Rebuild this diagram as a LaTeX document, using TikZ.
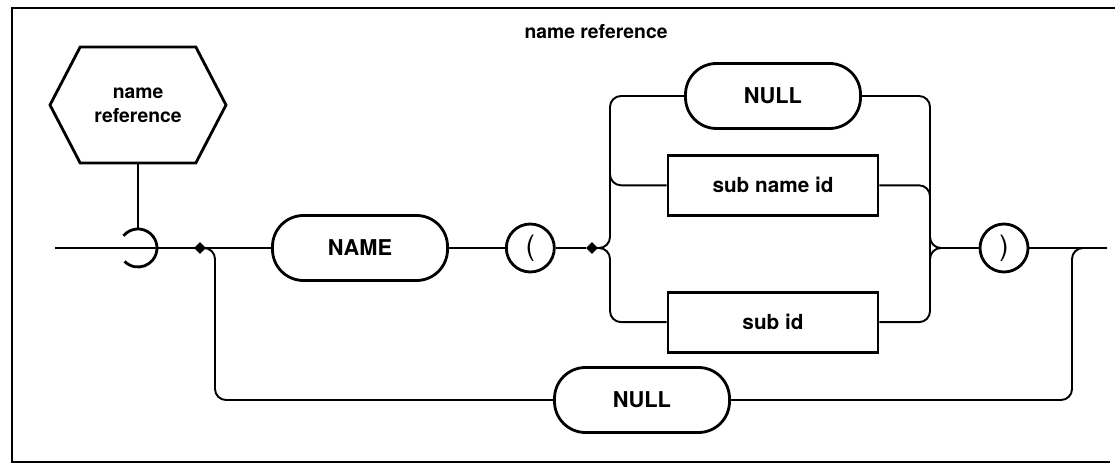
\documentclass[tikz,border=0pt]{standalone}
\usepackage{fontspec}
\setmainfont{TeX Gyre Heros}
\usepackage{tikz}
\usetikzlibrary{positioning,shapes.geometric,shapes.symbols}

\begin{document}
\begin{tikzpicture}[
  node distance=0.48cm and 1.12cm,
  box/.style={rectangle,draw=black,line width=1.6pt,minimum width=3.5cm,minimum height=1.3cm,
              inner sep=0pt,font=\fontsize{12.4}{14}\selectfont\bfseries},
  term/.style={box,rounded corners=0.62cm},
  idbox/.style={box,minimum width=4.2cm,minimum height=1.2cm,font=\fontsize{11.8}{14}\selectfont\bfseries},
  hexa/.style={signal,signal to=west and east,signal pointer angle=125,draw=black,line width=1.6pt,
               minimum width=3.52cm,minimum height=2.32cm,align=center,
               font=\fontsize{11}{13.5}\selectfont\bfseries},
  paren/.style={circle,draw=black,line width=1.6pt,minimum size=0.96cm,inner sep=0pt,
                font=\fontsize{16}{16}\selectfont},
  junction/.style={diamond,fill=black,inner sep=0pt,minimum size=0.24cm},
  conn/.style={line width=1.1pt,rounded corners=0.22cm},
  frame/.style={line width=1.2pt}
]
  \useasboundingbox (0,0) rectangle (22.32,-9.28);
  \draw[frame] (22.3,-0.16) -- (0.24,-0.16) -- (0.24,-9.24) -- (22.2,-9.24);

  \node[font=\fontsize{11}{13}\selectfont\bfseries] (title) at (11.92,-0.64) {name reference};
  \node[hexa] (hex) at (2.76,-2.1) {name\\reference};
  \node[circle,inner sep=0pt,outer sep=0pt,minimum size=0.76cm] (tap) at (2.76,-4.96) {};
  \coordinate (start) at (1.1,-4.96);
  \coordinate (exit) at (22.14,-4.96);
  \coordinate (lrail) at (12.2,-4.96);
  \coordinate (rrail) at (18.6,-4.96);

  \node[junction] (fork) at (4.0,-4.96) {};
  \node[term] (name) at (7.2,-4.96) {NAME};
  \node[paren,right=of name] (lparen) {(};
  \node[junction] (split) at (11.84,-4.96) {};
  \node[term] (nulltop) at (15.46,-1.92) {NULL};
  \node[idbox,below=of nulltop] (subname) {sub name id};
  \node[idbox,below=1.48cm of subname] (subid) {sub id};
  \node[paren] (rparen) at (20.08,-4.96) {)};
  \node[term] (nullbot) at (12.84,-8.0) {NULL};

  % reference tap
  \draw[conn] (hex.south) -- (tap.north);
  \draw[line width=1.6pt] (tap.140) arc[start angle=140,end angle=-135,radius=0.38cm];

  % main line
  \draw[conn] (start) -- (name.west);
  \draw[conn] (name) -- (lparen);
  \draw[conn] (lparen) -- (split);
  \draw[conn] (rparen) -- (exit);

  % choices inside the parentheses
  \draw[conn] (split.center) -- (lrail) |- (nulltop.west);
  \draw[conn] (split.center) -- (lrail) |- (subid.west);
  \draw[conn] (subname.west) -| (lrail |- nulltop.south);
  \draw[conn] (nulltop.east) -| (rrail) -- (rparen.west);
  \draw[conn] (subid.east) -| (rrail) -- (rparen.west);
  \draw[conn] (subname.east) -| (rrail |- subid.north);

  % bypass
  \draw[conn] (fork.center) -- ++(0.3,0) |- (nullbot.west);
  \draw[conn] (nullbot.east) -| ([xshift=-0.7cm]exit) -- (exit);
\end{tikzpicture}
\end{document}
